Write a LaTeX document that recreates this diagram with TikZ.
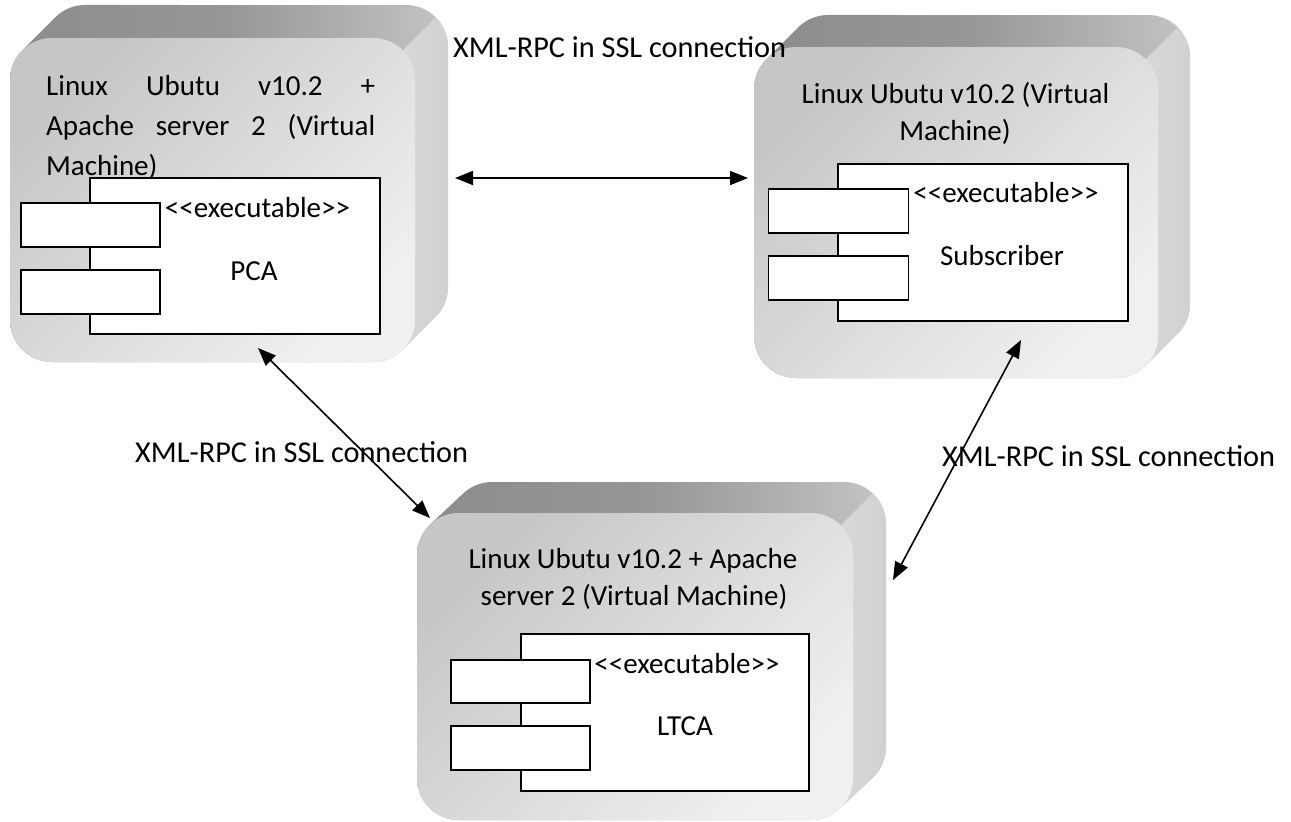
\documentclass[tikz,border=0pt]{standalone}
\usepackage{fontspec}
\setmainfont{Carlito}
\usetikzlibrary{arrows.meta}

\definecolor{topA}{HTML}{8C8C8C}
\definecolor{topM}{HTML}{979797}
\definecolor{topB}{HTML}{C4C4C4}
\definecolor{sideA}{HTML}{DEDEDE}
\definecolor{sideB}{HTML}{D0D0D0}
\definecolor{faceA}{HTML}{C6C6C6}
\definecolor{faceB}{HTML}{F0F0F0}

\tikzset{
  txt/.style={inner sep=0pt, font=\fontsize{29}{35}\selectfont},
  lbl/.style={inner sep=0pt, font=\fontsize{30.3}{36}\selectfont},
  vmface/.style={rounded corners=42pt, inner sep=0pt, top color=faceA, bottom color=faceB, shading angle=45},
  comp/.style={draw=black, line width=1.8pt, fill=white, inner sep=0pt},
  conn/.style={line width=1.6pt, {Triangle[length=18pt,width=14pt]}-{Triangle[length=18pt,width=14pt]}}
}

% 3-D node: front face (#1,#2)-(#3,#4), depth offset #5 to the right and #6 upwards, name #7
\newcommand{\vmbox}[7]{%
  \shade[left color=topA, right color=topB, middle color=topM]
    (#1,{#4-42}) -- (#1,{#2+42}) arc[start angle=180, end angle=225, radius=42]
    -- ({#1+#5+12.3},{#2-#6+12.3}) arc[start angle=225, end angle=270, radius=42]
    -- ({#3+#5-42},{#2-#6}) arc[start angle=270, end angle=360, radius=42]
    -- ({#3+#5},{#4-#6-42}) arc[start angle=0, end angle=45, radius=42]
    -- ({#3-12.3},{#4-12.3}) arc[start angle=45, end angle=90, radius=42]
    -- ({#1+42},#4) arc[start angle=90, end angle=180, radius=42] -- cycle;
  \begin{scope}
    \clip
      (#1,{#4-42}) -- (#1,{#2+42}) arc[start angle=180, end angle=225, radius=42]
      -- ({#1+#5+12.3},{#2-#6+12.3}) arc[start angle=225, end angle=270, radius=42]
      -- ({#3+#5-42},{#2-#6}) arc[start angle=270, end angle=360, radius=42]
      -- ({#3+#5},{#4-#6-42}) arc[start angle=0, end angle=45, radius=42]
      -- ({#3-12.3},{#4-12.3}) arc[start angle=45, end angle=90, radius=42]
      -- ({#1+42},#4) arc[start angle=90, end angle=180, radius=42] -- cycle;
    \clip ({#3-12.3+600},{#2+12.3-600}) -- ({#3-12.3+1500},{#2+12.3+300})
      -- ({#3-12.3+300},{#2+12.3+1500}) -- ({#3-12.3-600},{#2+12.3+600}) -- cycle;
    \shade[left color=sideA, right color=sideB] ({#3-45},{#2-#6-5}) rectangle ({#3+#5+3},{#4+3});
  \end{scope}
  \node[vmface, minimum width={#3-#1}, minimum height={#4-#2}] (#7) at ({(#1+#3)/2},{(#2+#4)/2}) {};
}

\begin{document}
\begin{tikzpicture}[x=1pt, y=-1pt]
\fill[white] (0,0) rectangle (1291,822);
\useasboundingbox (0,0) rectangle (1291,822);

% machines
\vmbox{10}{38}{415}{362}{33}{33}{pcaVM}
\vmbox{754}{47}{1158}{378}{32}{32}{subVM}
\vmbox{417}{513}{853}{820}{33}{31}{ltcaVM}

% PCA machine
\node[txt, anchor=base west] (pcaT1) at (46,95) {\hbox to 329pt{Linux\hfill Ubutu\hfill v10.2\hfill +}};
\node[txt, anchor=base west] (pcaT2) at (46,135) {\hbox to 329pt{Apache\hfill server\hfill 2\hfill (Virtual}};
\node[txt, anchor=base west] (pcaT3) at (46,175) {Machine)};
\node[comp, minimum width=290, minimum height=156] (pcaC) at (235,256) {};
\node[comp, minimum width=139, minimum height=44] (pcaP1) at (90.5,225) {};
\node[comp, minimum width=139, minimum height=44] (pcaP2) at (90.5,292) {};
\node[txt, anchor=base] (pcaS) at (257.5,217) {<{}<executable>{}>};
\node[txt, anchor=base] (pcaN) at (254,280) {PCA};

% Subscriber machine
\node[txt, anchor=base] (subT1) at (955.5,103) {Linux Ubutu v10.2 (Virtual};
\node[txt, anchor=base] (subT2) at (955,140) {Machine)};
\node[comp, minimum width=290, minimum height=157] (subC) at (983,242.5) {};
\node[comp, minimum width=140, minimum height=44] (subP1) at (838.5,211) {};
\node[comp, minimum width=140, minimum height=44] (subP2) at (838.5,278) {};
\node[txt, anchor=base] (subS) at (1006,202) {<{}<executable>{}>};
\node[txt, anchor=base] (subN) at (1002,265) {Subscriber};

% LTCA machine
\node[txt, anchor=base] (ltcaT1) at (633,568) {Linux Ubutu v10.2 + Apache};
\node[txt, anchor=base] (ltcaT2) at (634,605) {server 2 (Virtual Machine)};
\node[comp, minimum width=288, minimum height=157] (ltcaC) at (665,712.5) {};
\node[comp, minimum width=139, minimum height=43] (ltcaP1) at (520.5,681.5) {};
\node[comp, minimum width=139, minimum height=44] (ltcaP2) at (520.5,748) {};
\node[txt, anchor=base] (ltcaS) at (687,673) {<{}<executable>{}>};
\node[txt, anchor=base] (ltcaN) at (685,735) {LTCA};

% connections
\coordinate (hA) at (455,178);
\coordinate (hB) at (748,178);
\coordinate (dA) at (258,348);
\coordinate (dB) at (430,518);
\coordinate (rA) at (1021,340);
\coordinate (rB) at (893,580);
\draw[conn] (hA) -- (hB);
\draw[conn] (dA) -- (dB);
\draw[conn] (rA) -- (rB);

\node[lbl, anchor=base west] (lblTop) at (453,57) {XML-RPC in SSL connection};
\node[lbl, anchor=base west] (lblLeft) at (135,462) {XML-RPC in SSL connection};
\node[lbl, anchor=base west] (lblRight) at (942,466) {XML-RPC in SSL connection};
\end{tikzpicture}
\end{document}
